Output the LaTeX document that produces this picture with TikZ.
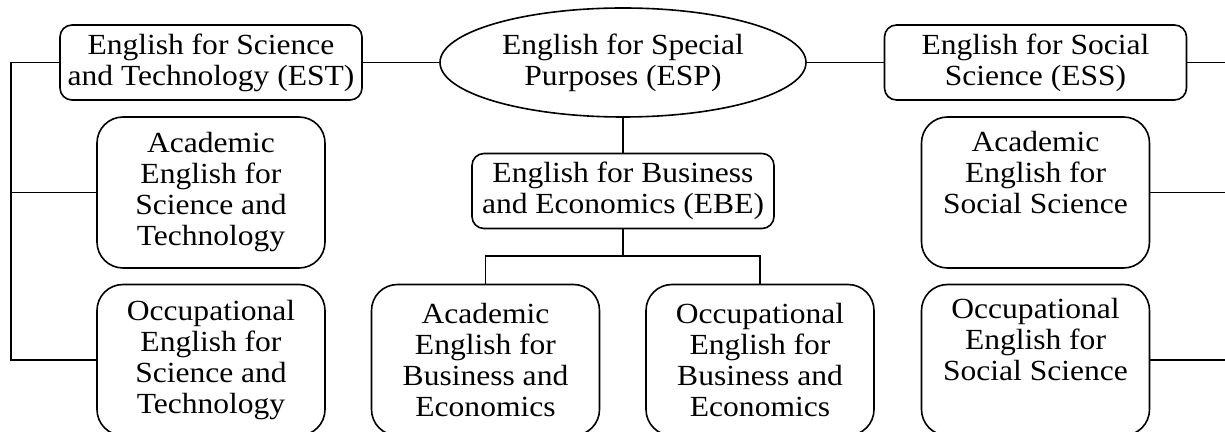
\documentclass[tikz,border=0pt]{standalone}
\usepackage{fontspec}
\setmainfont{Liberation Serif}[FakeStretch=1.08]
\usetikzlibrary{shapes.geometric,positioning}

\begin{document}
\begin{tikzpicture}[x=0.5pt, y=-0.5pt, on grid, line width=0.8pt,
  every node/.style={font=\fontsize{14.6}{15.5}\selectfont, align=center, inner sep=0pt},
  root/.style={draw, ellipse, minimum width=183pt, minimum height=54.5pt},
  topic/.style={draw, rounded corners=6pt, minimum width=151pt, minimum height=37.5pt},
  sub/.style={draw, rounded corners=13pt, minimum width=114pt, minimum height=75.5pt}]
\path [use as bounding box, clip] (0,0) rectangle (1225,432);

\node [root] (esp) at (623,62.5) {English for Special\\Purposes (ESP)};
\node [topic] (est) [left = 206pt of esp] {English for Science\\and Technology (EST)};
\node [topic] (ess) [right = 206.25pt of esp] {English for Social\\Science (ESS)};
\node [topic] (ebe) [below = 64.25pt of esp] {English for Business\\and Economics (EBE)};
\node [sub] (aest) [below = 65pt of est] {Academic\\English for\\Science and\\Technology};
\node [sub] (oest) [below = 83.75pt of aest] {Occupational\\English for\\Science and\\Technology};
\node [sub] (aess) [below = 65pt of ess] {Academic\\English for\\Social Science\\\strut};
\node [sub] (oess) [below = 83.75pt of aess] {Occupational\\English for\\Social Science\\\strut};
\node [sub] (aebe) [below left = 84.5pt and 68.75pt of ebe] {Academic\\English for\\Business and\\Economics};
\node [sub] (oebe) [below right = 84.5pt and 68.5pt of ebe] {Occupational\\English for\\Business and\\Economics};

\draw (est.east) -- (esp.west);
\draw (esp.east) -- (ess.west);
\draw (esp.south) -- (ebe.north);
\draw (ebe.south) -- ++(0,-13.5pt) coordinate (fork);
\draw (aebe.north) |- (fork) -| (oebe.north);
\draw (est.west) -- ++(-24pt,0) coordinate (lspine) |- (oest.west);
\draw (aest.west) -- (aest.west -| lspine);
\draw (ess.east) -- ++(24pt,0) coordinate (rspine) |- (oess.east);
\draw (aess.east) -- (aess.east -| rspine);
\end{tikzpicture}
\end{document}
